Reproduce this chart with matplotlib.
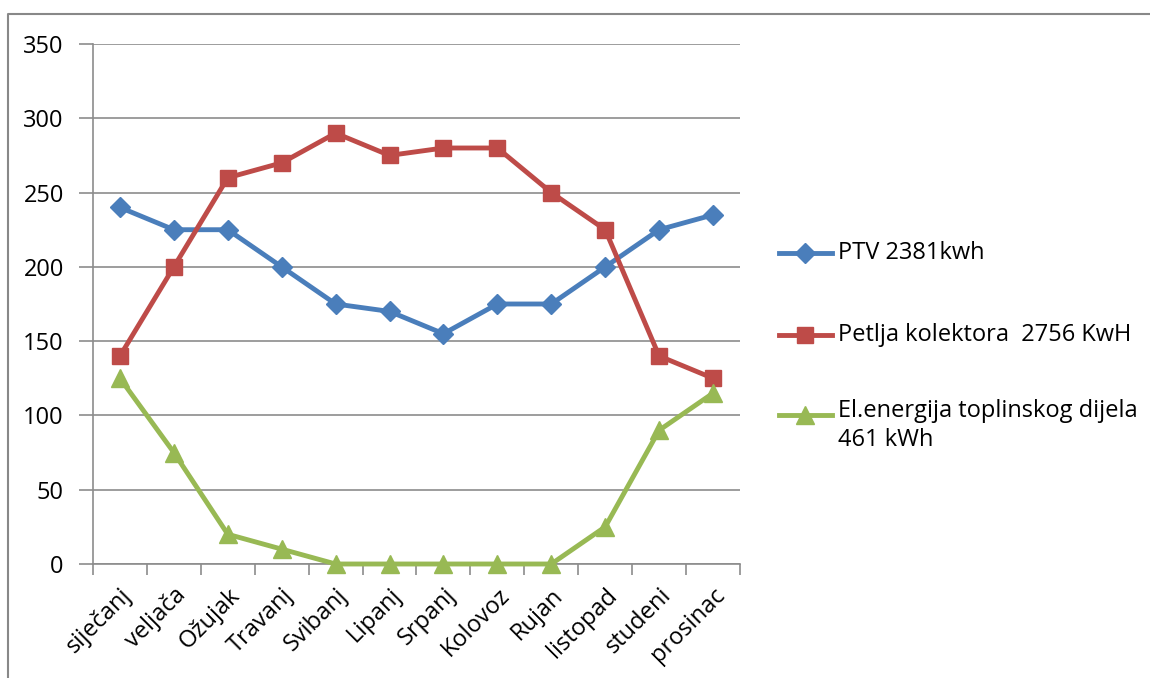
import matplotlib.pyplot as plt
from matplotlib.lines import Line2D
import numpy as np

plt.rcParams['font.family'] = ['Open Sans', 'DejaVu Sans']

months = ['siječanj', 'veljača', 'Ožujak', 'Travanj', 'Svibanj', 'Lipanj',
          'Srpanj', 'Kolovoz', 'Rujan', 'listopad', 'studeni', 'prosinac']
ptv = [240, 225, 225, 200, 175, 170, 155, 175, 175, 200, 225, 235]
petlja = [140, 200, 260, 270, 290, 275, 280, 280, 250, 225, 140, 125]
el_energija = [125, 75, 20, 10, 0, 0, 0, 0, 0, 25, 90, 115]
labels = ['PTV 2381kwh', 'Petlja kolektora  2756 KwH',
          'El.energija toplinskog dijela\n461 kWh']

colors = ['#4A7EBB', '#BE4B48', '#98B954']
markers = ['D', 's', '^']
msizes = [10, 12, 13]

fig = plt.figure(figsize=(11.5, 6.78), dpi=100)
ax = fig.add_axes([93 / 1150, 114 / 678, 647 / 1150, 520 / 678])

x = np.arange(len(months))
for vals, c, m, ms in zip([ptv, petlja, el_energija], colors, markers, msizes):
    ax.plot(x, vals, color=c, lw=3.5, marker=m, ms=ms, mec=c, mfc=c, zorder=3,
            clip_on=False)

ax.set_xlim(-0.5, len(months) - 0.5)
ax.set_ylim(0, 350)
ax.set_yticks(range(0, 351, 50))
ax.grid(axis='y', color='#8c8c8c', lw=1.2)
ax.set_axisbelow(True)
for s in ['top', 'right']:
    ax.spines[s].set_visible(False)
for s in ['left', 'bottom']:
    ax.spines[s].set_color('#8c8c8c')
    ax.spines[s].set_linewidth(1.2)

ax.set_xticks(x)
ax.set_xticklabels(months, rotation=45, ha='right', rotation_mode='anchor')
ax.tick_params(axis='x', length=0, labelsize=17, pad=14)
ax.set_xticks(np.arange(-0.5, len(months)), minor=True)
ax.tick_params(axis='x', which='minor', length=8, color='#8c8c8c', width=1.2)
ax.tick_params(axis='y', length=10, color='#8c8c8c', width=1.2, labelsize=17, pad=11)

# legend drawn on the right
leg_y = [253, 335, 415]
for lab, c, m, ms, yy in zip(labels, colors, markers, msizes, leg_y):
    yf = 1 - yy / 678
    fig.add_artist(Line2D([779 / 1150, 832 / 1150], [yf, yf], color=c, lw=3.5,
                          transform=fig.transFigure))
    fig.add_artist(Line2D([805 / 1150], [yf], color=c, marker=m, ms=ms,
                          mec=c, mfc=c, transform=fig.transFigure))
    fig.text(838 / 1150, yf, lab, fontsize=17, va='top' if '\n' in lab else 'center',
             linespacing=1.25)

# fix first-line alignment of wrapped label
fig.texts[-1].set_position((838 / 1150, 1 - (415 - 16) / 678))

# outer frame (left and top)
fig.add_artist(Line2D([8 / 1150, 8 / 1150, 1], [0, 1 - 14 / 678, 1 - 14 / 678],
                      color='#888888', lw=1.5, transform=fig.transFigure))

fig.savefig('out.png', dpi=100)
